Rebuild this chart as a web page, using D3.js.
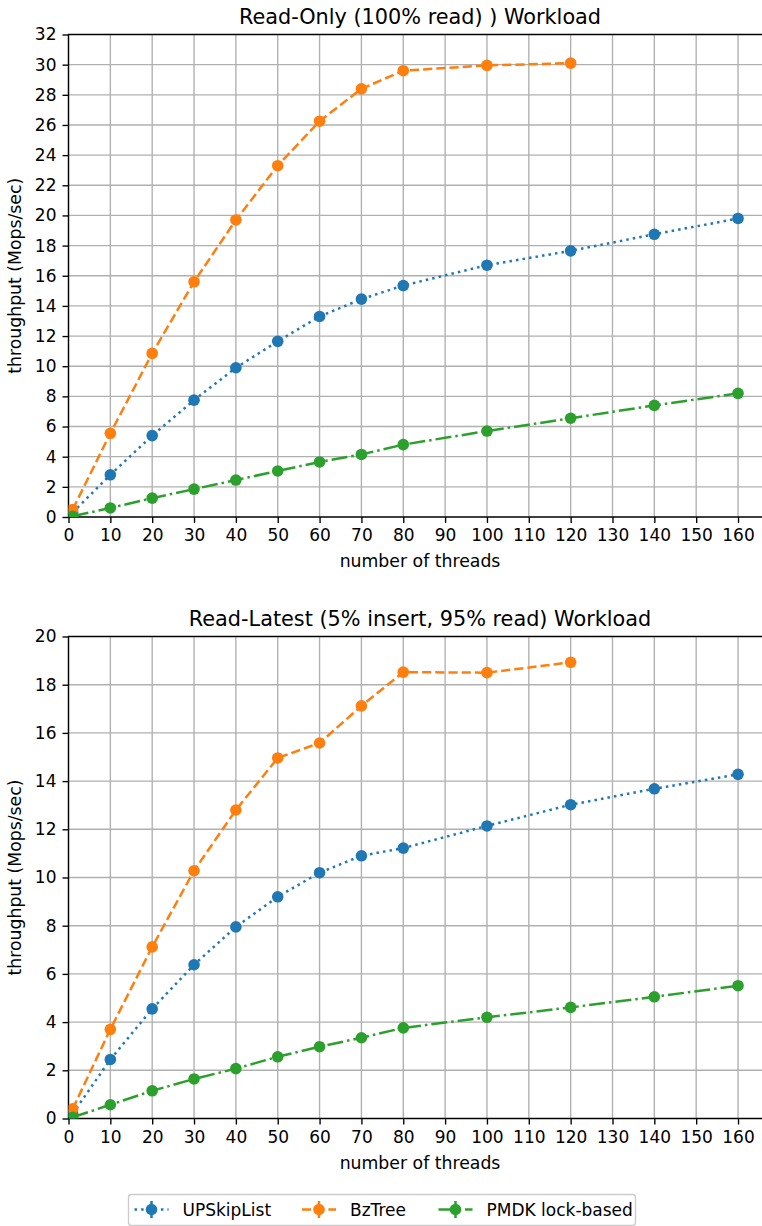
<!DOCTYPE html>
<html>
<head>
<meta charset="utf-8">
<script src="https://cdn.jsdelivr.net/npm/d3@7"></script>
<style>
  html, body { margin: 0; padding: 0; background: #fff; }
  svg { display: block; font-family: "DejaVu Sans", sans-serif; }
</style>
</head>
<body>
<svg id="chart" width="762" height="1226"></svg>
<script>
// Thread counts used in both workloads
const threads = [1, 10, 20, 30, 40, 50, 60, 70, 80, 100, 120, 140, 160];
const bzThreads = [1, 10, 20, 30, 40, 50, 60, 70, 80, 100, 120];

// Read-Only workload throughput (Mops/sec)
const readOnlyUPSkipList = [0.3, 2.8, 5.4, 7.75, 9.9, 11.65, 13.3, 14.45, 15.35, 16.7, 17.65, 18.75, 19.8];
const readOnlyBzTree = [0.5, 5.55, 10.85, 15.6, 19.7, 23.3, 26.25, 28.4, 29.6, 29.95, 30.1];
const readOnlyPMDK = [0.05, 0.6, 1.25, 1.85, 2.45, 3.05, 3.65, 4.15, 4.8, 5.7, 6.55, 7.4, 8.2];

// Read-Latest workload throughput (Mops/sec)
const readLatestUPSkipList = [0.2, 2.45, 4.55, 6.38, 7.95, 9.2, 10.2, 10.9, 11.22, 12.14, 13.02, 13.68, 14.28];
const readLatestBzTree = [0.4, 3.7, 7.12, 10.28, 12.8, 14.96, 15.58, 17.12, 18.52, 18.5, 18.93];
const readLatestPMDK = [0.05, 0.57, 1.15, 1.64, 2.07, 2.56, 2.98, 3.35, 3.76, 4.2, 4.61, 5.05, 5.51];

// Axis ticks
const xTicks = [0, 10, 20, 30, 40, 50, 60, 70, 80, 90, 100, 110, 120, 130, 140, 150, 160];
const yTicksReadOnly = [0, 2, 4, 6, 8, 10, 12, 14, 16, 18, 20, 22, 24, 26, 28, 30, 32];
const yTicksReadLatest = [0, 2, 4, 6, 8, 10, 12, 14, 16, 18, 20];

const seriesNames = ["UPSkipList", "BzTree", "PMDK lock-based"];
const seriesColors = ["#1f77b4", "#ff7f0e", "#2ca02c"];
const seriesDash = ["2.5,4.1", "9.2,4", "16,4,2.5,4"];

const panels = [
  {
    title: "Read-Only (100% read) ) Workload",
    top: 34.5, bottom: 517,
    yMax: 32, yTicks: yTicksReadOnly,
    series: [
      { x: threads, y: readOnlyUPSkipList },
      { x: bzThreads, y: readOnlyBzTree },
      { x: threads, y: readOnlyPMDK }
    ]
  },
  {
    title: "Read-Latest (5% insert, 95% read) Workload",
    top: 636.5, bottom: 1118.5,
    yMax: 20, yTicks: yTicksReadLatest,
    series: [
      { x: threads, y: readLatestUPSkipList },
      { x: bzThreads, y: readLatestBzTree },
      { x: threads, y: readLatestPMDK }
    ]
  }
];

const svg = d3.select("#chart");
const left = 68.5, right = 771.5;
const fontTick = 17, fontLabel = 17.3, fontLegend = 17, fontTitle = 20.8;
const lw = 2.5, gridW = 1.36;

panels.forEach((p, pi) => {
  const x = d3.scaleLinear().domain([0, 168]).range([left, right]);
  const y = d3.scaleLinear().domain([0, p.yMax]).range([p.bottom, p.top]);
  const g = svg.append("g");

  const clipId = "clip" + pi;
  svg.append("clipPath").attr("id", clipId)
    .append("rect").attr("x", left).attr("y", p.top)
    .attr("width", right - left).attr("height", p.bottom - p.top);

  // grid
  const grid = g.append("g").attr("stroke", "#b0b0b0").attr("stroke-width", gridW);
  xTicks.forEach(t => {
    grid.append("line").attr("x1", x(t)).attr("x2", x(t))
      .attr("y1", p.top).attr("y2", p.bottom);
  });
  p.yTicks.forEach(t => {
    grid.append("line").attr("x1", left).attr("x2", right)
      .attr("y1", y(t)).attr("y2", y(t));
  });

  // axes
  const xAxis = d3.axisBottom(x).tickValues(xTicks).tickSize(6).tickPadding(6).tickFormat(d3.format("d"));
  const yAxis = d3.axisLeft(y).tickValues(p.yTicks).tickSize(6).tickPadding(6).tickFormat(d3.format("d"));
  const gx = g.append("g").attr("transform", `translate(0,${p.bottom})`).call(xAxis);
  const gy = g.append("g").attr("transform", `translate(${left},0)`).call(yAxis);
  [gx, gy].forEach(a => {
    a.attr("font-family", null).attr("font-size", null);
    a.select(".domain").remove();
    a.selectAll(".tick line").attr("stroke", "#000").attr("stroke-width", gridW);
    a.selectAll(".tick text").attr("fill", "#000").style("font-size", fontTick + "px")
      .style("font-family", "DejaVu Sans");
  });

  // spines
  g.append("rect").attr("x", left).attr("y", p.top)
    .attr("width", right - left).attr("height", p.bottom - p.top)
    .attr("fill", "none").attr("stroke", "#000").attr("stroke-width", gridW);

  // series
  const plot = g.append("g").attr("clip-path", `url(#${clipId})`);
  p.series.forEach((s, si) => {
    const pts = s.x.map((xv, i) => [xv, s.y[i]]);
    const line = d3.line().x(d => x(d[0])).y(d => y(d[1]));
    plot.append("path").datum(pts).attr("d", line)
      .attr("fill", "none").attr("stroke", seriesColors[si])
      .attr("stroke-width", lw).attr("stroke-dasharray", seriesDash[si]);
    plot.selectAll(null).data(pts).enter().append("circle")
      .attr("cx", d => x(d[0])).attr("cy", d => y(d[1])).attr("r", 5.8)
      .attr("fill", seriesColors[si]);
  });

  // title
  g.append("text").attr("x", (left + right) / 2).attr("y", p.top - 10.5)
    .attr("text-anchor", "middle").style("font-size", fontTitle + "px").text(p.title);

  // axis labels
  g.append("text").attr("x", (left + right) / 2).attr("y", p.bottom + 50)
    .attr("text-anchor", "middle").style("font-size", fontLabel + "px").text("number of threads");
  g.append("text").attr("transform", `translate(21,${(p.top + p.bottom) / 2}) rotate(-90)`)
    .attr("text-anchor", "middle").style("font-size", fontLabel + "px").text("throughput (Mops/sec)");
});

// legend
const lg = svg.append("g");
lg.append("rect").attr("x", 128.5).attr("y", 1194.5).attr("width", 507).attr("height", 31)
  .attr("rx", 3).attr("fill", "#fff").attr("stroke", "#cccccc").attr("stroke-width", gridW);
const legendX = [134.5, 302, 438.5];
seriesNames.forEach((name, i) => {
  const hx = legendX[i], hy = 1209.5;
  lg.append("line").attr("x1", hx).attr("x2", hx + 34).attr("y1", hy).attr("y2", hy)
    .attr("stroke", seriesColors[i]).attr("stroke-width", lw).attr("stroke-dasharray", seriesDash[i]);
  lg.append("line").attr("x1", hx + 17).attr("x2", hx + 17).attr("y1", hy - 8.5).attr("y2", hy + 8.5)
    .attr("stroke", seriesColors[i]).attr("stroke-width", lw);
  lg.append("circle").attr("cx", hx + 17).attr("cy", hy).attr("r", 5.8).attr("fill", seriesColors[i]);
  lg.append("text").attr("x", hx + 48).attr("y", 1216).style("font-size", fontLegend + "px").text(name);
});
</script>
</body>
</html>
